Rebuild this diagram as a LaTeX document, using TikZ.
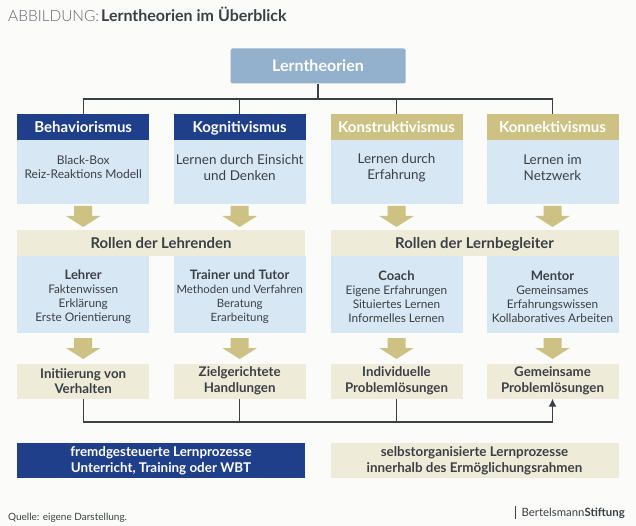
\documentclass[tikz,border=0pt]{standalone}
\usepackage{fontspec}
\usetikzlibrary{arrows.meta}
\setmainfont{Lato}
\definecolor{navy}{HTML}{1F3F8A}
\definecolor{lightblue}{HTML}{D8E7F4}
\definecolor{steel}{HTML}{93B1CD}
\definecolor{gold}{HTML}{CDC283}
\definecolor{cream}{HTML}{EFEBD9}
\definecolor{ink}{HTML}{3B4045}
\definecolor{paper}{HTML}{FBFCFA}
\tikzset{
 box/.style={rectangle,inner sep=0pt,minimum width=#1},
 single/.style={text height=15pt,text depth=3pt},
 headblue/.style={box=132pt,minimum height=26pt,single,fill=navy,text=white,font=\fontsize{15}{17}\selectfont\bfseries},
 headgold/.style={box=132pt,minimum height=26pt,single,fill=gold,text=white,font=\fontsize{15}{17}\selectfont\bfseries},
 bodybox/.style={box=132pt,fill=lightblue,minimum height=#1},
 txt/.style={align=center,inner sep=0pt,text=ink,font=\fontsize{13.5}{16}\selectfont},
 sm/.style={align=center,inner sep=0pt,text=ink,font=\fontsize{11.8}{14}\selectfont},
 strong/.style={align=center,inner sep=0pt,text=ink,font=\fontsize{13.3}{15.7}\selectfont\bfseries},
 cr/.style={box=132pt,minimum height=35pt,fill=cream},
 wide/.style={box=288pt,fill=cream},
 rolebar/.style={wide,minimum height=26pt,single,text=ink,font=\fontsize{14.9}{17}\selectfont\bfseries},
 conn/.style={draw=ink,line width=1.3pt},
 block/.pic={\fill[gold] (-9,-10)--(9,-10)--(9,0)--(17.3,0)--(0,11)--(-17.3,0)--(-9,0)--cycle;}
}
\begin{document}
\begin{tikzpicture}[x=1pt,y=-1pt]
\useasboundingbox (0,0) rectangle (636,526);
\fill[paper] (0,0) rectangle (636,526);
\node[anchor=base west,inner sep=0pt,text=ink,font=\fontsize{16}{18}\selectfont] (title) at (8,21.5) {\textcolor{ink!80}{\fontsize{15.4}{18}\selectfont\fontspec{Lato Light}ABBILDUNG:}\hspace{2pt}\textbf{Lerntheorien im Überblick}};
% top
\node[rectangle,fill=steel,rounded corners=1.5pt,minimum width=175pt,minimum height=35pt,single,text=white,font=\fontsize{16}{18}\selectfont\bfseries] (root) at (318,66) {Lerntheorien};
\coordinate (bus) at (318,99);
% headers
\node[headblue] (h1) at (83.2,127) {Behaviorismus};
\node[headblue] (h2) at (239.7,127) {Kognitivismus};
\node[headgold] (h3) at (396.5,127) {Konstruktivismus};
\node[headgold] (h4) at (552.5,127) {Konnektivismus};
\draw[conn] (root.south) -- (bus) (h1.north) |- (bus) (h2.north) |- (bus) (h3.north) |- (bus) (h4.north) |- (bus);
% body 1
\foreach \n/\x in {a/83.2,b/239.7,c/396.5,d/552.5}{
 \node[bodybox=64pt] (b\n) at (\x,172) {};
 \pic at (\x,216) {block};
 \node[bodybox=77pt] (m\n) at (\x,294.5) {};
 \pic at (\x,348) {block};
}
\node[sm,font=\fontsize{12}{14.5}\selectfont] (t1) at (83.2,167) {Black-Box\\Reiz-Reaktions Modell};
\node[txt] (t2) at (239.7,168) {Lernen durch Einsicht\\und Denken};
\node[txt] (t3) at (396.5,168) {Lernen durch\\Erfahrung};
\node[txt] (t4) at (552.5,168) {Lernen im\\Netzwerk};
% roles
\node[rolebar] (r1) at (161,243) {Rollen der Lehrenden};
\node[rolebar] (r2) at (474.5,243) {Rollen der Lernbegleiter};
% body 2
\node[sm] (m1) at (83.2,296.5) {\textbf{\fontsize{13}{15}\selectfont Lehrer}\\Faktenwissen\\Erklärung\\Erste Orientierung};
\node[sm,font=\fontsize{11.4}{14}\selectfont] (m2) at (239.7,296.5) {\textbf{\fontsize{13}{15}\selectfont Trainer und Tutor}\\Methoden und Verfahren\\Beratung\\Erarbeitung};
\node[sm] (m3) at (396.5,296.5) {\textbf{\fontsize{13}{15}\selectfont Coach}\\Eigene Erfahrungen\\Situiertes Lernen\\Informelles Lernen};
\node[sm] (m4) at (552.5,296.5) {\textbf{\fontsize{13}{15}\selectfont Mentor}\\Gemeinsames\\Erfahrungswissen\\Kollaboratives Arbeiten};
% results
\node[cr,strong] (e1) at (83.2,381) {Initiierung von\\Verhalten};
\node[cr,strong] (e2) at (239.7,381) {Zielgerichtete\\Handlungen};
\node[cr,strong] (e3) at (396.5,381) {Individuelle\\Problemlösungen};
\node[cr,strong] (e4) at (552.5,381) {Gemeinsame\\Problemlösungen};
\coordinate (low) at (318,422);
\draw[conn] (e1.south) |- (low) (e2.south) |- (low) (e3.south) |- (low);
\draw[conn,-{Latex[length=8pt,width=8pt]}] (low) -| (e4.south);
% bottom
\node[wide,minimum height=34.5pt,fill=navy,text=white,align=center,font=\fontsize{13.4}{15.7}\selectfont\bfseries] (g1) at (161,460.5) {fremdgesteuerte Lernprozesse\\Unterricht, Training oder WBT};
\node[wide,minimum height=34.5pt,text=ink,align=center,font=\fontsize{13.4}{15.7}\selectfont\bfseries] (g2) at (474.5,460.5) {selbstorganisierte Lernprozesse\\innerhalb des Ermöglichungsrahmen};
\node[anchor=base west,inner sep=0pt,text=ink,font=\fontsize{10}{12}\selectfont] (src) at (8,520) {Quelle: eigene Darstellung.};
\node[anchor=base east,inner sep=0pt,text=ink,font=\fontsize{11.4}{13}\selectfont] (logo) at (625,516) {Bertelsmann\textbf{Stiftung}};
\coordinate (ba) at (515.5,506);
\coordinate (bb) at (515.5,519);
\draw[draw=ink,line width=1pt] (ba) -- (bb);
\end{tikzpicture}
\end{document}
